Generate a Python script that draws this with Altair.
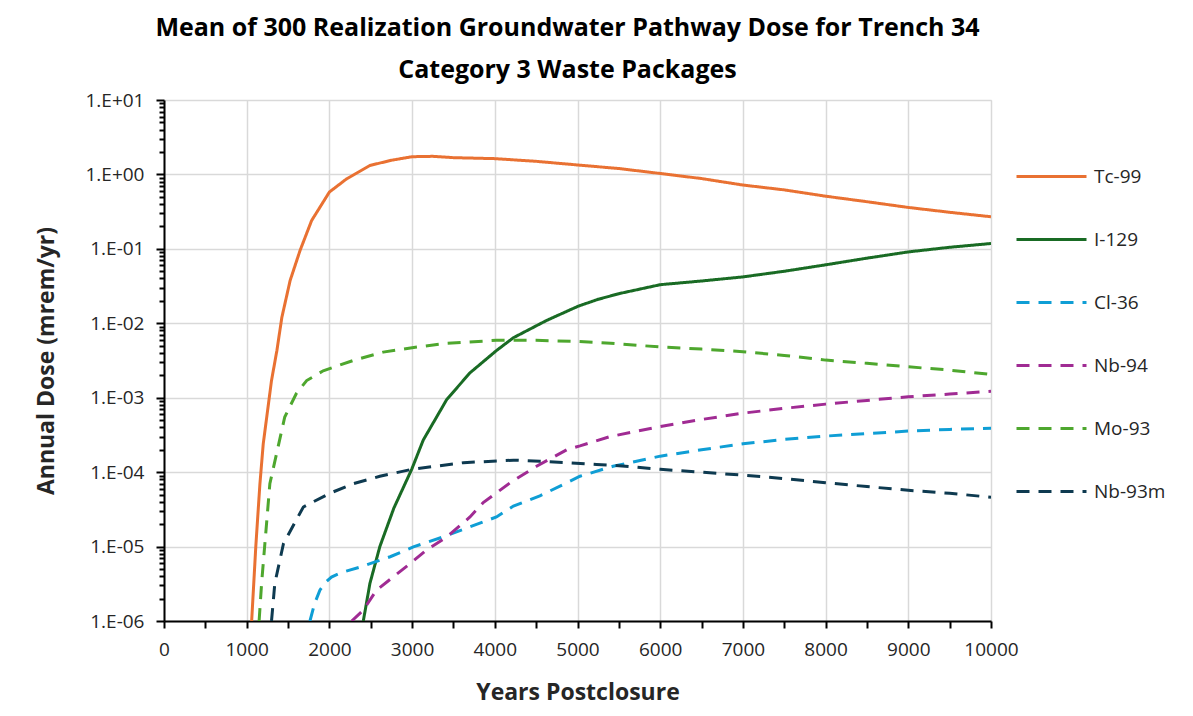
import altair as alt
import pandas as pd

series_names = ["Tc-99", "I-129", "Cl-36", "Nb-94", "Mo-93", "Nb-93m"]
series_colors = ["#E97132", "#196B24", "#0F9ED5", "#A02B93", "#4EA72E", "#0E3A50"]
series_dashes = [[1, 0], [1, 0], [13, 9], [13, 9], [13, 9], [13, 9]]

tc99_years = [1060, 1110, 1160, 1200, 1300, 1365, 1425, 1525, 1645, 1785, 2000, 2210, 2490,
              2750, 3000, 3250, 3500, 4000, 4500, 5000, 5500, 6000, 6500, 7000, 7500, 8000,
              8500, 9000, 9500, 10000]
tc99_dose = [1e-6, 1e-5, 7e-5, 2.4e-4, 1.7e-3, 4.3e-3, 1.2e-2, 3.75e-2, 9.5e-2, 0.24, 0.58,
             0.875, 1.32, 1.55, 1.73, 1.75, 1.68, 1.63, 1.5, 1.34, 1.2, 1.03, 0.88, 0.72, 0.62,
             0.51, 0.43, 0.36, 0.31, 0.27]

i129_years = [2410, 2490, 2610, 2780, 2995, 3135, 3420, 3700, 4020, 4225, 4625, 5010, 5250,
              5500, 6000, 6500, 7000, 7500, 8000, 8500, 9000, 9500, 10000]
i129_dose = [1e-6, 3.2e-6, 1e-5, 3.3e-5, 1.09e-4, 2.7e-4, 9.5e-4, 2.16e-3, 4.3e-3, 6.4e-3,
             1.09e-2, 1.7e-2, 2.1e-2, 2.5e-2, 3.3e-2, 3.7e-2, 4.2e-2, 5.0e-2, 6.1e-2,
             7.5e-2, 9.1e-2, 0.105, 0.118]

cl36_years = [1765, 1820, 1885, 1950, 2025, 2150, 2370, 2735, 3015, 3375, 4020, 4225, 4545,
              4870, 5030, 5430, 6000, 6500, 7000, 7500, 8000, 8500, 9000, 9500, 10000]
cl36_dose = [1e-6, 1.7e-6, 2.6e-6, 3.3e-6, 3.9e-6, 4.5e-6, 5.3e-6, 7.3e-6, 9.9e-6, 1.35e-5,
             2.5e-5, 3.5e-5, 4.8e-5, 7.2e-5, 8.8e-5, 1.2e-4, 1.64e-4, 2.0e-4, 2.4e-4, 2.75e-4,
             3.05e-4, 3.3e-4, 3.56e-4, 3.75e-4, 3.9e-4]

nb94_years = [2270, 2410, 2570, 2975, 3175, 3420, 3700, 3860, 4185, 4505, 4870, 5030, 5390,
              6000, 6500, 7000, 7500, 8000, 8500, 9000, 9500, 10000]
nb94_dose = [1e-6, 1.4e-6, 2.6e-6, 5.9e-6, 9e-6, 1.35e-5, 2.5e-5, 3.9e-5, 7.2e-5, 1.2e-4,
             2.0e-4, 2.25e-4, 3.0e-4, 4.1e-4, 5.1e-4, 6.2e-4, 7.2e-4, 8.2e-4, 9.2e-4,
             1.03e-3, 1.12e-3, 1.22e-3]

mo93_years = [1150, 1180, 1280, 1460, 1600, 1725, 1925, 2300, 2650, 3000, 3420, 4020, 4500,
              5010, 5400, 6000, 6500, 7000, 7500, 8000, 8500, 9000, 9500, 10000]
mo93_dose = [1e-6, 3.2e-6, 7e-5, 5.5e-4, 1.14e-3, 1.7e-3, 2.3e-3, 3.2e-3, 4.1e-3, 4.7e-3,
             5.4e-3, 5.9e-3, 5.9e-3, 5.7e-3, 5.4e-3, 4.8e-3, 4.5e-3, 4.15e-3, 3.7e-3, 3.2e-3,
             2.9e-3, 2.6e-3, 2.35e-3, 2.05e-3]

nb93m_years = [1300, 1340, 1445, 1685, 2005, 2290, 2610, 2995, 3620, 4225, 4545, 4870, 5230,
               5500, 6000, 6500, 7000, 7500, 8000, 8500, 9000, 9500, 10000]
nb93m_dose = [1e-6, 3.2e-6, 1.1e-5, 3.4e-5, 5.2e-5, 7e-5, 8.8e-5, 1.09e-4, 1.34e-4, 1.45e-4,
              1.4e-4, 1.34e-4, 1.27e-4, 1.22e-4, 1.09e-4, 1.0e-4, 9.1e-5, 8.2e-5, 7.2e-5,
              6.4e-5, 5.7e-5, 5.2e-5, 4.6e-5]

x_tick_values = list(range(0, 10001, 500))
y_tick_values = [m * 10.0 ** k for k in range(-6, 1) for m in range(1, 10)] + [10.0]

series_data = [
    ("Tc-99", tc99_years, tc99_dose),
    ("I-129", i129_years, i129_dose),
    ("Cl-36", cl36_years, cl36_dose),
    ("Nb-94", nb94_years, nb94_dose),
    ("Mo-93", mo93_years, mo93_dose),
    ("Nb-93m", nb93m_years, nb93m_dose),
]
rows = []
for name, xs, ys in series_data:
    for xv, yv in zip(xs, ys):
        rows.append({"series": name, "year": xv, "dose": yv})
df = pd.DataFrame(rows)

FONT = "Open Sans"
is_major = "abs(log(datum.value)/LN10 - round(log(datum.value)/LN10)) < 0.001"

legend = alt.Legend(
    title=None, orient="none", legendX=851, legendY=46, symbolType="stroke",
    symbolSize=4900, symbolStrokeWidth=3, labelFontSize=19, labelFont=FONT,
    labelColor="#262626", clipHeight=61, rowPadding=2, labelOffset=6, padding=0,
)

chart = alt.Chart(df).mark_line(strokeWidth=3, clip=True).encode(
    x=alt.X("year:Q", scale=alt.Scale(domain=[0, 10000], nice=False),
            axis=alt.Axis(
                values=x_tick_values,
                labelExpr="datum.value % 1000 == 0 ? format(datum.value, 'd') : ''",
                gridOpacity={"condition": {"test": "datum.value % 1000 == 0", "value": 1}, "value": 0},
                gridColor="#D9D9D9", gridWidth=1.5,
                tickSize=7, tickColor="black", tickWidth=2,
                domainColor="black", domainWidth=2,
                labelFont=FONT, labelFontSize=19, labelColor="#262626", labelPadding=12,
                labelFlush=False, labelOverlap=False,
                title="Years Postclosure", titleFont=FONT, titleFontSize=23,
                titleFontWeight="bold", titleColor="#262626", titlePadding=22,
            )),
    y=alt.Y("dose:Q", scale=alt.Scale(type="log", domain=[1e-6, 10], nice=False),
            axis=alt.Axis(
                values=y_tick_values,
                labelExpr=is_major + " ? '1.E' + (datum.value >= 1 ? '+' : '-') + format(abs(round(log(datum.value)/LN10)), '02d') : ''",
                gridOpacity={"condition": {"test": is_major, "value": 1}, "value": 0},
                gridColor="#D9D9D9", gridWidth=1.5,
                tickSize={"condition": {"test": is_major, "value": 8}, "value": 5},
                tickColor="black", tickWidth=2,
                domainColor="black", domainWidth=2,
                labelFont=FONT, labelFontSize=19, labelColor="#262626", labelPadding=12,
                labelOverlap=False, labelFlush=False,
                title="Annual Dose (mrem/yr)", titleFont=FONT, titleFontSize=23,
                titleFontWeight="bold", titleColor="#262626", titlePadding=26,
            )),
    color=alt.Color("series:N", scale=alt.Scale(domain=series_names, range=series_colors),
                    sort=series_names, legend=legend),
    strokeDash=alt.StrokeDash("series:N", scale=alt.Scale(domain=series_names, range=series_dashes),
                              sort=series_names, legend=legend),
    detail="series:N",
).properties(
    width=827, height=521,
    autosize=alt.AutoSizeParams(type="none"),
    padding={"left": 156, "top": 92, "right": 194, "bottom": 86},
    title=alt.TitleParams(
        text=["Mean of 300 Realization Groundwater Pathway Dose for Trench 34",
              "Category 3 Waste Packages"],
        font=FONT, fontSize=25, fontWeight="bold", lineHeight=42, anchor="middle",
        offset=8, dx=-10, color="black",
    ),
).configure_view(stroke="black", strokeWidth=1.5).configure(background="white")

chart.save("out.html", embed_options={"renderer": "svg", "actions": False})
